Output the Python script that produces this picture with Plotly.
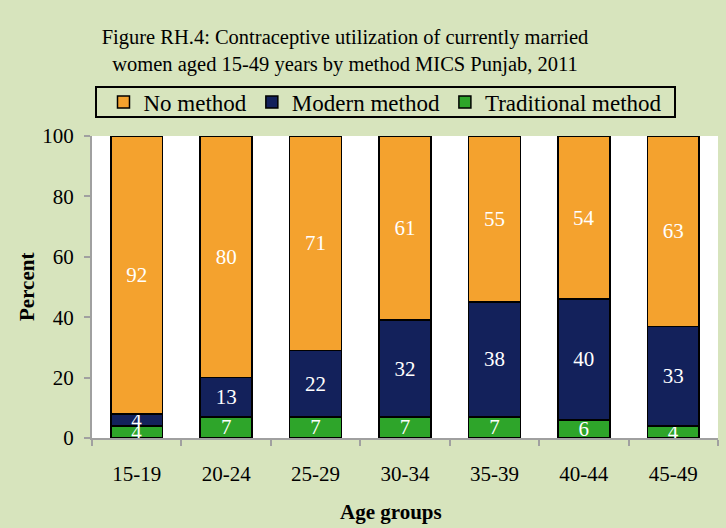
import plotly.graph_objects as go

categories = ["15-19", "20-24", "25-29", "30-34", "35-39", "40-44", "45-49"]
traditional = [4, 7, 7, 7, 7, 6, 4]
modern = [4, 13, 22, 32, 38, 40, 33]
no_method = [92, 80, 71, 61, 55, 54, 63]

FONT = "Liberation Serif"
fig = go.Figure()
series = [
    ("Traditional method", traditional, "#2EA52A"),
    ("Modern method", modern, "#13215B"),
    ("No method", no_method, "#F4A22E"),
]
for name, vals, col in series:
    fig.add_trace(go.Bar(
        x=categories, y=vals, name=name,
        marker=dict(color=col, line=dict(color="black", width=1.5)),
        text=[str(v) for v in vals], textposition="inside", textangle=0,
        insidetextanchor="middle", constraintext="none",
        textfont=dict(color="white", size=21, family=FONT),
        cliponaxis=False,
    ))

PL, PT, PW, PH = 92, 136, 626, 302  # plot area in px


def px_x(x):
    return (x - PL) / PW


def px_y(y):
    return (PT + PH - y) / PH


fig.update_layout(
    barmode="stack", bargap=0.42,
    width=726, height=528,
    paper_bgcolor="#D7E4BD", plot_bgcolor="white",
    margin=dict(l=PL, r=726 - PL - PW, t=PT, b=528 - PT - PH, autoexpand=False),
    font=dict(family=FONT, color="black", size=20),
    title=dict(
        text="Figure RH.4: Contraceptive utilization of currently married<br>women aged 15-49 years by method MICS Punjab, 2011",
        x=345 / 726, xref="container", xanchor="center",
        y=1 - 44 / 528, yref="container", yanchor="top",
        font=dict(size=20.5, family=FONT),
    ),
    legend=dict(
        orientation="h", traceorder="reversed",
        x=385.5 / 726, xref="container", xanchor="center",
        y=1 - 102 / 528, yref="container", yanchor="middle",
        bgcolor="rgba(0,0,0,0)", borderwidth=0,
        font=dict(size=23, family=FONT), itemwidth=30,
    ),
    showlegend=True,
    shapes=[
        dict(type="rect", xref="paper", yref="paper",
             x0=px_x(96), x1=px_x(675), y0=px_y(117), y1=px_y(87),
             line=dict(color="black", width=2), fillcolor="rgba(0,0,0,0)", layer="above"),
    ],
)
fig.add_annotation(
    text="<b>Age groups</b>", x=px_x(391), xref="paper", xanchor="center",
    y=px_y(512), yref="paper", yanchor="middle", showarrow=False,
    font=dict(size=21, family=FONT),
)
fig.add_annotation(
    text="<b>Percent</b>", textangle=-90, x=px_x(27), xref="paper", xanchor="center",
    y=0.5, yref="paper", yanchor="middle", showarrow=False,
    font=dict(size=21, family=FONT),
)
fig.update_xaxes(
    showline=True, linecolor="#A0A0A0", linewidth=2, automargin=False,
    ticks="outside", tickson="boundaries", tickcolor="#A0A0A0", ticklen=6, tickwidth=2,
    tickfont=dict(size=21), showgrid=False, ticklabelstandoff=16,
)
fig.update_yaxes(
    range=[0, 100], tickvals=[0, 20, 40, 60, 80, 100], automargin=False,
    showline=True, linecolor="#A0A0A0", linewidth=2,
    ticks="outside", tickcolor="#A0A0A0", ticklen=6, tickwidth=2,
    tickfont=dict(size=21), showgrid=False, zeroline=False, ticklabelstandoff=6,
)
fig.write_html("out.html", config={"displayModeBar": False},
               post_script="document.body.style.margin='0';")
